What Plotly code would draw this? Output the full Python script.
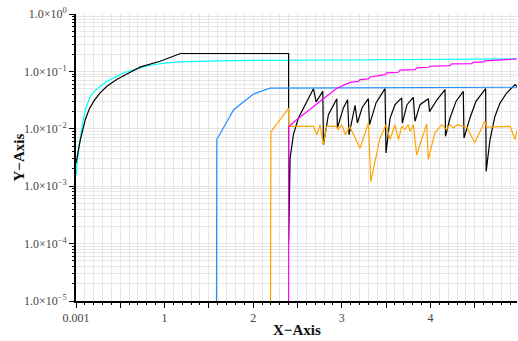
import plotly.graph_objects as go

# ---------------- data ----------------
cyan_x = [0.001, 0.035, 0.069, 0.106, 0.162, 0.22, 0.275, 0.35, 0.425, 0.53, 0.65, 0.84, 1.0, 1.18, 1.6, 2.0, 3.0, 4.0, 4.98]
cyan_y = [1.5e-3, 4.9e-3, 0.011, 0.0215, 0.0367, 0.047, 0.055, 0.067, 0.077, 0.093, 0.107, 0.128, 0.139, 0.147, 0.152, 0.155, 0.158, 0.161, 0.165]

black_x = [0.001, 0.05, 0.106, 0.15, 0.2, 0.27, 0.35, 0.46, 0.58, 0.73, 0.95, 1.18, 2.40,
           2.400, 2.417, 2.454, 2.511, 2.586, 2.680, 2.710, 2.786, 2.793, 2.849,
           2.944, 2.950, 3.018, 3.065, 3.082, 3.150, 3.176, 3.229, 3.300, 3.313,
           3.387, 3.488, 3.499, 3.545, 3.601, 3.676, 3.683, 3.736, 3.807, 3.826,
           3.883, 3.976, 3.990, 4.074, 4.165, 4.170, 4.221, 4.289, 4.371, 4.379,
           4.446, 4.514, 4.623, 4.629, 4.672, 4.728, 4.785, 4.86, 4.954, 4.988]
black_y = [2.5e-3, 6.5e-3, 0.0144, 0.022, 0.030, 0.042, 0.055, 0.072, 0.091, 0.12, 0.15, 0.205, 0.205,
           1e-4, 3.1e-3, 7.9e-3, 0.0154, 0.0263, 0.050, 0.0294, 0.045, 0.0053, 0.0176,
           0.0335, 0.0103, 0.0231, 0.0322, 0.0079, 0.0256, 0.0126, 0.0233, 0.0335, 0.0118,
           0.0285, 0.050, 0.0038, 0.0154, 0.0263, 0.0345, 0.0126, 0.0263, 0.0353, 0.0135,
           0.0263, 0.0335, 0.0199, 0.032, 0.048, 0.0074, 0.0154, 0.030, 0.045, 0.0069,
           0.0154, 0.030, 0.050, 0.0018, 0.0064, 0.0164, 0.028, 0.042, 0.059, 0.052]

blue_x = [1.585, 1.59, 1.78, 2.0, 2.19, 3.0, 4.98]
blue_y = [1e-6, 6.5e-3, 0.0215, 0.040, 0.051, 0.052, 0.053]

orange_x = [2.195, 2.20, 2.40, 2.401, 2.68, 2.72, 2.755, 2.79, 2.83, 2.94,
            2.96, 3.00, 3.04, 3.09, 3.206, 3.30, 3.327, 3.43, 3.50, 3.545,
            3.60, 3.64, 3.676, 3.71, 3.75, 3.77, 3.807, 3.845, 3.958, 3.976,
            4.05, 4.13, 4.18, 4.22, 4.26, 4.30, 4.37, 4.41, 4.50, 4.615,
            4.635, 4.90, 4.955, 4.98]
orange_y = [1e-6, 8.8e-3, 0.023, 0.011, 0.011, 0.0079, 0.0118, 0.0053, 0.011, 0.011,
            0.0097, 0.0118, 0.0079, 0.011, 0.0046, 0.0126, 0.0012, 0.0068, 0.0118, 0.0065,
            0.0118, 0.0065, 0.011, 0.0097, 0.0118, 0.009, 0.0118, 0.0035, 0.0122, 0.0029,
            0.0085, 0.0118, 0.0097, 0.0118, 0.0103, 0.0118, 0.011, 0.0107, 0.0057, 0.0135,
            0.0107, 0.011, 0.0065, 0.0097]

magenta_x = [2.40, 2.401, 2.49, 2.605, 2.72, 2.83, 2.944, 3.094, 3.187, 3.206,
             3.30, 3.319, 3.488, 3.507, 3.638, 3.657, 3.826, 3.845, 3.976, 3.995,
             4.221, 4.240, 4.466, 4.484, 4.596, 4.616, 4.973]
magenta_y = [1e-6, 0.011, 0.0144, 0.020, 0.027, 0.037, 0.051, 0.0645, 0.0672, 0.0719,
             0.074, 0.080, 0.088, 0.094, 0.0966, 0.105, 0.107, 0.115, 0.118, 0.123,
             0.126, 0.135, 0.137, 0.144, 0.1465, 0.152, 0.165]

x_tickvals = [0.001, 0.5, 1, 1.5, 2, 2.5, 3, 3.5, 4, 4.5]
x_ticktext = ["0.001", "", "1", "", "2", "", "3", "", "4", ""]
y_tickvals = [1e-5, 1e-4, 1e-3, 1e-2, 1e-1, 1]
y_ticktext = ["1.0×10<sup>−5</sup>", "1.0×10<sup>−4</sup>", "1.0×10<sup>−3</sup>",
              "1.0×10<sup>−2</sup>", "1.0×10<sup>−1</sup>", "1.0×10<sup>0</sup>"]

# ---------------- figure ----------------
fig = go.Figure()
lw = 1.2
fig.add_trace(go.Scatter(x=cyan_x, y=cyan_y, mode="lines", line=dict(color="#00FFFF", width=lw)))
fig.add_trace(go.Scatter(x=black_x, y=black_y, mode="lines", line=dict(color="#000000", width=lw)))
fig.add_trace(go.Scatter(x=blue_x, y=blue_y, mode="lines", line=dict(color="#1E90FF", width=lw)))
fig.add_trace(go.Scatter(x=orange_x, y=orange_y, mode="lines", line=dict(color="#FFA500", width=lw)))
fig.add_trace(go.Scatter(x=magenta_x, y=magenta_y, mode="lines", line=dict(color="#FF00FF", width=lw)))

font_family = "Liberation Serif"
grid_c = "#e6e6e6"
xr = [0.001, 4.977]
yr = [-5, 0]

fig.update_layout(
    width=518, height=341,
    margin=dict(l=76, r=1, t=14, b=40),
    paper_bgcolor="white", plot_bgcolor="white",
    showlegend=False,
    font=dict(family=font_family, size=12, color="#444"),
    xaxis=dict(
        range=xr, tickmode="array", tickvals=x_tickvals, ticktext=x_ticktext,
        ticks="outside", ticklen=5, tickcolor="black", tickwidth=1,
        showline=True, linecolor="black", linewidth=2,
        showgrid=True, gridcolor=grid_c, gridwidth=1, zeroline=False,
        minor=dict(dtick=0.1, tick0=0, ticks="outside", ticklen=2, tickcolor="black",
                   showgrid=True, gridcolor=grid_c, gridwidth=1),
        automargin=False,
        tickfont=dict(family=font_family, size=12, color="#444"),
    ),
    yaxis=dict(
        type="log", range=yr, tickmode="array", tickvals=y_tickvals, ticktext=y_ticktext,
        ticks="outside", ticklen=5, tickcolor="black", tickwidth=1,
        showline=True, linecolor="black", linewidth=2,
        showgrid=True, gridcolor=grid_c, gridwidth=1, zeroline=False,
        minor=dict(dtick="D1", ticks="outside", ticklen=2, tickcolor="black",
                   showgrid=True, gridcolor=grid_c, gridwidth=1),
        automargin=False,
        tickfont=dict(family=font_family, size=12, color="#444"),
    ),
    xaxis2=dict(
        overlaying="x", side="top", anchor="y", range=xr,
        tickmode="array", tickvals=x_tickvals, showticklabels=False,
        ticks="inside", ticklen=4, tickcolor="black", automargin=False,
        showline=True, linecolor="black", linewidth=2, showgrid=False, zeroline=False,
        minor=dict(dtick=0.1, tick0=0, ticks="inside", ticklen=2, tickcolor="black", showgrid=False),
    ),
    yaxis2=dict(
        overlaying="y", side="right", anchor="x", type="log", range=yr,
        tickmode="array", tickvals=y_tickvals, showticklabels=False, automargin=False,
        ticks="inside", ticklen=3, tickcolor="black",
        showline=False, showgrid=False, zeroline=False,
    ),
    annotations=[
        dict(text="<b>X−Axis</b>", xref="paper", yref="paper", x=0.5, y=0, yshift=-29,
             xanchor="center", yanchor="middle", showarrow=False,
             font=dict(family=font_family, size=15, color="#111")),
        dict(text="<b>Y−Axis</b>", xref="paper", yref="paper", x=0, y=0.5, xshift=-58,
             xanchor="center", yanchor="middle", showarrow=False, textangle=-90,
             font=dict(family=font_family, size=15, color="#111")),
    ],
)

fig.write_html("out.html", config={"displayModeBar": False},
               post_script="document.body.style.margin='0';document.body.style.overflow='hidden';")
